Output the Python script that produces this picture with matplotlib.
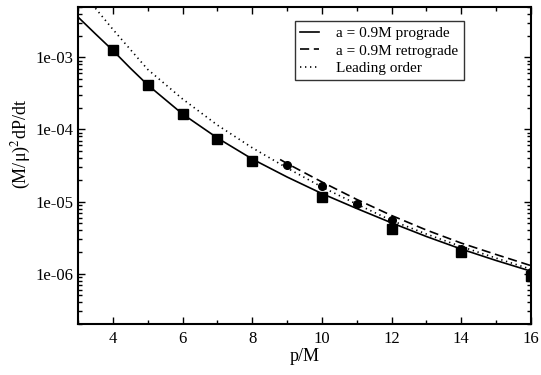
import matplotlib
matplotlib.use("Agg")
import matplotlib.pyplot as plt
from matplotlib.ticker import LogLocator, NullFormatter, FuncFormatter, MultipleLocator

plt.rcParams["font.family"] = ["Liberation Serif", "DejaVu Serif"]
plt.rcParams["mathtext.fontset"] = "stix"

# curves
p_pro = [3, 3.5, 4, 4.5, 5, 6, 7, 8, 9, 10, 11, 12, 13, 14, 15, 16]
flux_pro = [3.63e-3, 2.12e-3, 1.25e-3, 7.1e-4, 4.15e-4, 1.64e-4, 7.62e-5, 3.89e-5,
            2.19e-5, 1.29e-5, 8.0e-6, 5.06e-6, 3.27e-6, 2.19e-6, 1.52e-6, 1.08e-6]

p_retro = [8.8, 9, 10, 11, 12, 13, 14, 15, 16]
flux_retro = [3.83e-5, 3.37e-5, 1.87e-5, 1.07e-5, 6.4e-6, 4.02e-6, 2.65e-6, 1.84e-6, 1.29e-6]

p_lead = [3.5, 4, 4.5, 5, 6, 7, 8, 9, 10, 11, 12, 13, 14, 15, 16]
flux_lead = [4.8e-3, 2.45e-3, 1.29e-3, 6.81e-4, 2.65e-4, 1.15e-4, 5.57e-5, 2.92e-5,
             1.59e-5, 9.2e-6, 5.45e-6, 3.54e-6, 2.37e-6, 1.64e-6, 1.15e-6]

# data points
p_sq = [4, 5, 6, 7, 8, 10, 12, 14, 16]
flux_sq = [1.26e-3, 4.08e-4, 1.62e-4, 7.27e-5, 3.63e-5, 1.14e-5, 4.22e-6, 1.99e-6, 9.4e-7]

p_circ = [9, 10, 11, 12, 14, 16]
flux_circ = [3.19e-5, 1.66e-5, 9.2e-6, 5.5e-6, 2.2e-6, 1.04e-6]


def main() -> None:
    fig = plt.figure(figsize=(5.41, 3.75), dpi=100)
    ax = fig.add_axes([78 / 541, 1 - 324 / 375, 453 / 541, 317 / 375])

    ax.plot(p_pro, flux_pro, color="black", lw=1.2, label="a = 0.9M prograde")
    ax.plot(p_retro, flux_retro, color="black", lw=1.2, dashes=(5.5, 2.8),
            label="a = 0.9M retrograde")
    ax.plot(p_lead, flux_lead, color="black", lw=1.2, dashes=(0.8, 2.2),
            label="Leading order")
    ax.plot(p_sq, flux_sq, "s", color="black", ms=6.5, zorder=3)
    ax.plot(p_circ, flux_circ, "o", color="black", ms=5.5, zorder=3)

    ax.set_yscale("log")
    ax.set_xlim(3, 16)
    ax.set_ylim(2e-7, 5e-3)

    ax.xaxis.set_major_locator(MultipleLocator(2))
    ax.xaxis.set_minor_locator(MultipleLocator(1))
    ax.yaxis.set_major_locator(LogLocator(base=10))
    ax.yaxis.set_minor_locator(LogLocator(base=10, subs=range(2, 10)))
    ax.yaxis.set_minor_formatter(NullFormatter())
    ax.yaxis.set_major_formatter(FuncFormatter(lambda v, pos: f"{v:.0e}"))

    ax.tick_params(which="both", direction="in", top=True, right=True, width=1.0)
    ax.tick_params(which="major", length=5, labelsize=12)
    ax.tick_params(which="minor", length=3)
    ax.tick_params(axis="x", which="major", pad=5)
    ax.tick_params(axis="y", which="major", pad=3)
    for s in ax.spines.values():
        s.set_linewidth(1.5)

    ax.set_xlabel("p/M", fontsize=13, labelpad=1)
    ax.set_ylabel("(M/μ)$^{2}$dP/dt", fontsize=13)
    ax.yaxis.set_label_coords(-0.099, 0.568)

    leg = ax.legend(loc="upper left", bbox_to_anchor=(0.479, 0.956), borderaxespad=0,
                    fontsize=11, frameon=True, fancybox=False, handlelength=1.25,
                    handletextpad=1.1, labelspacing=0.25, borderpad=0.35)
    leg.get_frame().set_edgecolor("black")
    leg.get_frame().set_linewidth(1.0)

    fig.savefig("out.png", dpi=100)


if __name__ == "__main__":
    main()
